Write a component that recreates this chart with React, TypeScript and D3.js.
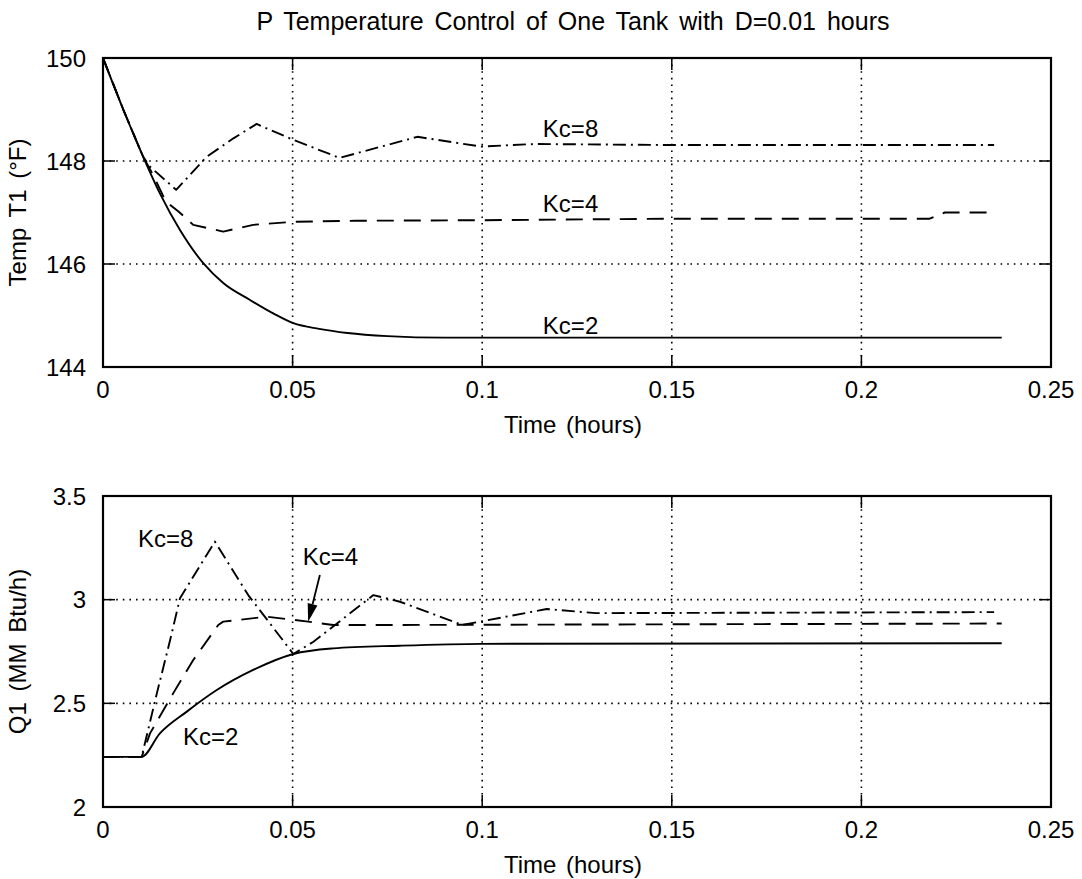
import React from "react";
import * as d3 from "d3";

const W = 1082;
const H = 879;

const xTickValues = [0, 0.05, 0.1, 0.15, 0.2, 0.25];
const xTickLabels = ["0", "0.05", "0.1", "0.15", "0.2", "0.25"];
const topYTicks = [144, 146, 148, 150];
const topYTickLabels = ["144", "146", "148", "150"];
const botYTicks = [2, 2.5, 3, 3.5];
const botYTickLabels = ["2", "2.5", "3", "3.5"];

// Top plot: temperature T1 (°F)
const tTopKc2 = [0, 0.0054, 0.0106, 0.015, 0.0203, 0.0265, 0.0317, 0.0388, 0.0449, 0.0502, 0.057, 0.0645, 0.075, 0.09, 0.237];
const T1Kc2 = [150, 148.99, 148.08, 147.37, 146.66, 146.01, 145.63, 145.3, 145.04, 144.85, 144.74, 144.66, 144.6, 144.57, 144.57];

const tTopKc4 = [0, 0.0054, 0.0106, 0.0133, 0.0165, 0.0199, 0.0238, 0.0317, 0.0396, 0.0502, 0.0667, 0.1, 0.15, 0.218, 0.222, 0.235];
const T1Kc4 = [150, 148.99, 148.08, 147.72, 147.22, 147.02, 146.76, 146.63, 146.76, 146.82, 146.84, 146.85, 146.88, 146.88, 147.0, 147.0];

const tTopKc8 = [0, 0.0054, 0.0106, 0.0124, 0.0193, 0.0273, 0.0344, 0.0405, 0.0502, 0.0624, 0.0829, 0.0997, 0.1138, 0.15, 0.235];
const T1Kc8 = [150, 148.99, 148.08, 147.89, 147.44, 148.08, 148.44, 148.72, 148.41, 148.06, 148.47, 148.28, 148.33, 148.31, 148.31];

// Bottom plot: heat input Q1 (MM Btu/h)
const tBotKc2 = [0, 0.0102, 0.015, 0.0221, 0.03, 0.0396, 0.0502, 0.0607, 0.0783, 0.1, 0.237];
const Q1Kc2 = [2.242, 2.242, 2.355, 2.46, 2.564, 2.661, 2.738, 2.765, 2.778, 2.787, 2.79];

const tBotKc4 = [0, 0.0102, 0.0124, 0.0185, 0.0238, 0.0304, 0.0317, 0.0432, 0.0541, 0.0607, 0.0783, 0.237];
const Q1Kc4 = [2.242, 2.242, 2.355, 2.548, 2.709, 2.878, 2.894, 2.918, 2.894, 2.878, 2.878, 2.885];

const tBotKc8 = [0, 0.0102, 0.0142, 0.0177, 0.0203, 0.0295, 0.0383, 0.0502, 0.0555, 0.0713, 0.0783, 0.0948, 0.117, 0.13, 0.235];
const Q1Kc8 = [2.242, 2.242, 2.548, 2.805, 3.007, 3.28, 3.022, 2.738, 2.797, 3.022, 2.99, 2.878, 2.955, 2.935, 2.94];

// Annotations (data coordinates)
const topLabels = [
  { text: "Kc=8", t: 0.116, v: 148.47 },
  { text: "Kc=4", t: 0.116, v: 147.01 },
  { text: "Kc=2", t: 0.116, v: 144.64 },
];
const botLabels = [
  { text: "Kc=8", t: 0.0092, v: 3.254 },
  { text: "Kc=4", t: 0.0527, v: 3.167 },
  { text: "Kc=2", t: 0.0211, v: 2.299 },
];
const arrowFrom = { t: 0.0572, v: 3.119 };
const arrowTo = { t: 0.0541, v: 2.894 };

const FONT = "'Liberation Sans', Arial, Helvetica, sans-serif";

const L = 103, R = 1051;
const topPlot = { top: 58, bottom: 367 };
const botPlot = { top: 496, bottom: 807 };

const x = d3.scaleLinear().domain([0, 0.25]).range([L, R]);
const yTop = d3.scaleLinear().domain([144, 150]).range([topPlot.bottom, topPlot.top]);
const yBot = d3.scaleLinear().domain([2, 3.5]).range([botPlot.bottom, botPlot.top]);

const zip = (a: number[], b: number[]) => a.map((v, i) => [v, b[i]] as [number, number]);

const DASH = "17,10";
const DASHDOT = "13,5,2,5";

function Panel({ y, yTicks, yTickLabels, series, labels, yLabel, box }: any) {
  const lineSmooth = d3.line<[number, number]>().x((d) => x(d[0])).y((d) => y(d[1])).curve(d3.curveMonotoneX);
  const lineLin = d3.line<[number, number]>().x((d) => x(d[0])).y((d) => y(d[1]));
  const tickLen = 12;
  const midY = (box.top + box.bottom) / 2;
  return (
    <g>
      {/* grid */}
      {xTickValues.slice(1, -1).map((v) => (
        <line key={"gx" + v} x1={x(v)} x2={x(v)} y1={box.top} y2={box.bottom} stroke="#000" strokeWidth={1.6} strokeDasharray="1.6,5" />
      ))}
      {yTicks.slice(1, -1).map((v: number) => (
        <line key={"gy" + v} x1={L} x2={R} y1={y(v)} y2={y(v)} stroke="#000" strokeWidth={1.6} strokeDasharray="1.6,5" />
      ))}
      {/* series */}
      {series.map((s: any, i: number) => (
        <path
          key={i}
          d={(s.smooth ? lineSmooth : lineLin)(zip(s.t, s.v)) || ""}
          fill="none"
          stroke="#000"
          strokeWidth={1.9}
          strokeDasharray={s.dash}
          strokeLinejoin="round"
        />
      ))}
      {/* frame */}
      <rect x={L} y={box.top} width={R - L} height={box.bottom - box.top} fill="none" stroke="#000" strokeWidth={2.2} />
      {xTickValues.slice(1, -1).map((v) => (
        <g key={"tx" + v}>
          <line x1={x(v)} x2={x(v)} y1={box.bottom} y2={box.bottom - tickLen} stroke="#000" strokeWidth={1.5} />
          <line x1={x(v)} x2={x(v)} y1={box.top} y2={box.top + tickLen} stroke="#000" strokeWidth={1.5} />
        </g>
      ))}
      {yTicks.slice(1, -1).map((v: number) => (
        <g key={"ty" + v}>
          <line x1={L} x2={L + tickLen} y1={y(v)} y2={y(v)} stroke="#000" strokeWidth={1.5} />
          <line x1={R} x2={R - tickLen} y1={y(v)} y2={y(v)} stroke="#000" strokeWidth={1.5} />
        </g>
      ))}
      {/* tick labels */}
      {xTickValues.map((v, i) => (
        <text key={"lx" + v} x={x(v)} y={box.bottom + 31} textAnchor="middle" fontSize={24} fontFamily={FONT}>
          {xTickLabels[i]}
        </text>
      ))}
      {yTicks.map((v: number, i: number) => (
        <text key={"ly" + v} x={86} y={y(v) + 8.5} textAnchor="end" fontSize={24} fontFamily={FONT}>
          {yTickLabels[i]}
        </text>
      ))}
      {/* axis labels */}
      <text x={(L + R) / 2 - 4} y={box.bottom + 66} textAnchor="middle" fontSize={24} fontFamily={FONT} wordSpacing={3}>
        Time (hours)
      </text>
      <text transform={`translate(26,${midY}) rotate(-90)`} textAnchor="middle" fontSize={24} fontFamily={FONT} wordSpacing={4}>
        {yLabel}
      </text>
      {/* annotations */}
      {labels.map((lb: any, i: number) => (
        <text key={"an" + i} x={x(lb.t)} y={y(lb.v)} fontSize={24} fontFamily={FONT}>
          {lb.text}
        </text>
      ))}
    </g>
  );
}

export default function App() {
  const topSeries = [
    { t: tTopKc2, v: T1Kc2, dash: undefined, smooth: true },
    { t: tTopKc4, v: T1Kc4, dash: DASH, smooth: false },
    { t: tTopKc8, v: T1Kc8, dash: DASHDOT, smooth: false },
  ];
  const botSeries = [
    { t: tBotKc2, v: Q1Kc2, dash: undefined, smooth: true },
    { t: tBotKc4, v: Q1Kc4, dash: DASH, smooth: false },
    { t: tBotKc8, v: Q1Kc8, dash: DASHDOT, smooth: false },
  ];
  const ax1 = x(arrowFrom.t), ay1 = yBot(arrowFrom.v);
  const ax2 = x(arrowTo.t), ay2 = yBot(arrowTo.v);
  const ang = Math.atan2(ay2 - ay1, ax2 - ax1);
  const headLen = 18, headW = 5;
  const bx = ax2 - headLen * Math.cos(ang), by = ay2 - headLen * Math.sin(ang);
  const px = -Math.sin(ang) * headW, py = Math.cos(ang) * headW;
  return (
    <svg width={W} height={H} style={{ display: "block", position: "absolute", left: 0, top: 0, background: "#fff" }}>
      <rect x={0} y={0} width={W} height={H} fill="#fff" />
      <text x={573} y={30} textAnchor="middle" fontSize={25} fontFamily={FONT} wordSpacing={4}>
        P Temperature Control of One Tank with D=0.01 hours
      </text>
      <Panel y={yTop} yTicks={topYTicks} yTickLabels={topYTickLabels} series={topSeries} labels={topLabels} yLabel="Temp T1 (°F)" box={topPlot} />
      <Panel y={yBot} yTicks={botYTicks} yTickLabels={botYTickLabels} series={botSeries} labels={botLabels} yLabel="Q1 (MM Btu/h)" box={botPlot} />
      <line x1={ax1} y1={ay1} x2={bx} y2={by} stroke="#000" strokeWidth={1.8} />
      <polygon points={`${ax2},${ay2} ${bx + px},${by + py} ${bx - px},${by - py}`} fill="#000" />
    </svg>
  );
}
